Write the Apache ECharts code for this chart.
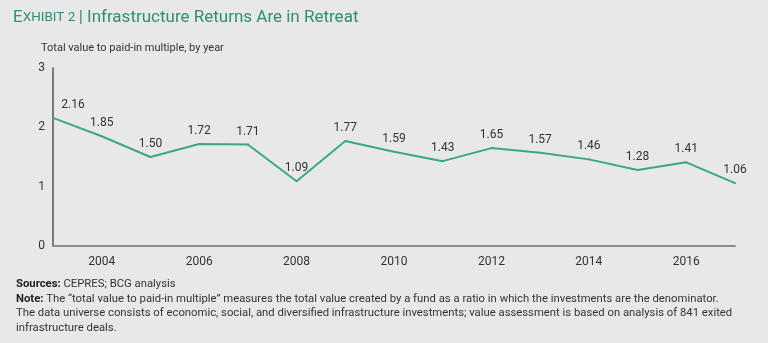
<!DOCTYPE html>
<html><head><meta charset="utf-8">
<script src="https://cdn.jsdelivr.net/npm/echarts@6/dist/echarts.min.js"></script>
<style>html,body{margin:0;padding:0;background:#e8e8ea;}#c{width:768px;height:343px;}</style>
</head><body><div id="c"></div>
<script>
const years = ['2003','2004','2005','2006','2007','2008','2009','2010','2011','2012','2013','2014','2015','2016','2017'];
const tvpi = [2.16,1.85,1.50,1.72,1.71,1.09,1.77,1.59,1.43,1.65,1.57,1.46,1.28,1.41,1.06];
const yTicks = [0,1,2,3];
const FONT = 'Roboto, "Noto Sans", sans-serif';
const chart = echarts.init(document.getElementById('c'));
chart.setOption({
  backgroundColor: '#e8e8ea',
  textStyle: {fontFamily: FONT},
  grid: {left: 53, right: 33, top: 68, bottom: 97},
  graphic: [
    {type:'text', left: 13, top: 9, style:{
      text: '{a|E}{b|XHIBIT 2} {c|| Infrastructure Returns Are in Retreat}',
      rich: {
        a:{fontSize:17, fill:'#2f8f70', fontFamily:FONT},
        b:{fontSize:13.5, fill:'#2f8f70', fontFamily:FONT},
        c:{fontSize:17, fill:'#2f8f70', fontFamily:FONT}
      }}},
    {type:'text', left: 41, top: 43, style:{text:'Total value to paid-in multiple, by year', fontSize:11, fill:'#333', fontFamily:FONT}},
    {type:'text', left: 16, top: 277, style:{
      text: '{b|Sources:} CEPRES; BCG analysis\n{b|Note:} The \u201ctotal value to paid-in multiple\u201d measures the total value created by a fund as a ratio in which the investments are the denominator.\nThe data universe consists of economic, social, and diversified infrastructure investments; value assessment is based on analysis of 841 exited\ninfrastructure deals.',
      fontSize: 11.3, lineHeight: 14.5, fill:'#333', fontFamily: FONT,
      rich: {b:{fontWeight:'bold', fontSize:11.3, lineHeight:14.5, fill:'#222', fontFamily:FONT}}
    }}
  ],
  xAxis: {
    type: 'category', data: years, boundaryGap: false,
    axisLine: {lineStyle:{color:'#8a8a8a', width:2}},
    axisTick: {show:false},
    axisLabel: {interval: (i)=> i%2===1, color:'#333', fontSize:12, margin:10},
    splitLine: {show:false}
  },
  yAxis: {
    type: 'value', min: 0, max: 3, interval: 1,
    axisLine: {show:true, lineStyle:{color:'#555', width:1.5}},
    axisTick: {show:false},
    axisLabel: {color:'#333', fontSize:12, margin:8, formatter:(v)=> yTicks.includes(v)? String(v):''},
    splitLine: {show:false}
  },
  series: [{
    type: 'line', data: tvpi.map((v,i)=> i===0 ? {value:v, label:{offset:[20,0]}} : v),
    symbol: 'circle', symbolSize: 2, showSymbol: true, showAllSymbol: true,
    itemStyle:{color:'#3aa888'},
    lineStyle:{color:'#3aa888', width:2},
    label: {show:true, position:'top', distance:6, color:'#333', fontSize:12, formatter:(p)=> Number(p.value).toFixed(2)},
    emphasis: {disabled:true},
    animation: false
  }]
});
</script></body></html>
